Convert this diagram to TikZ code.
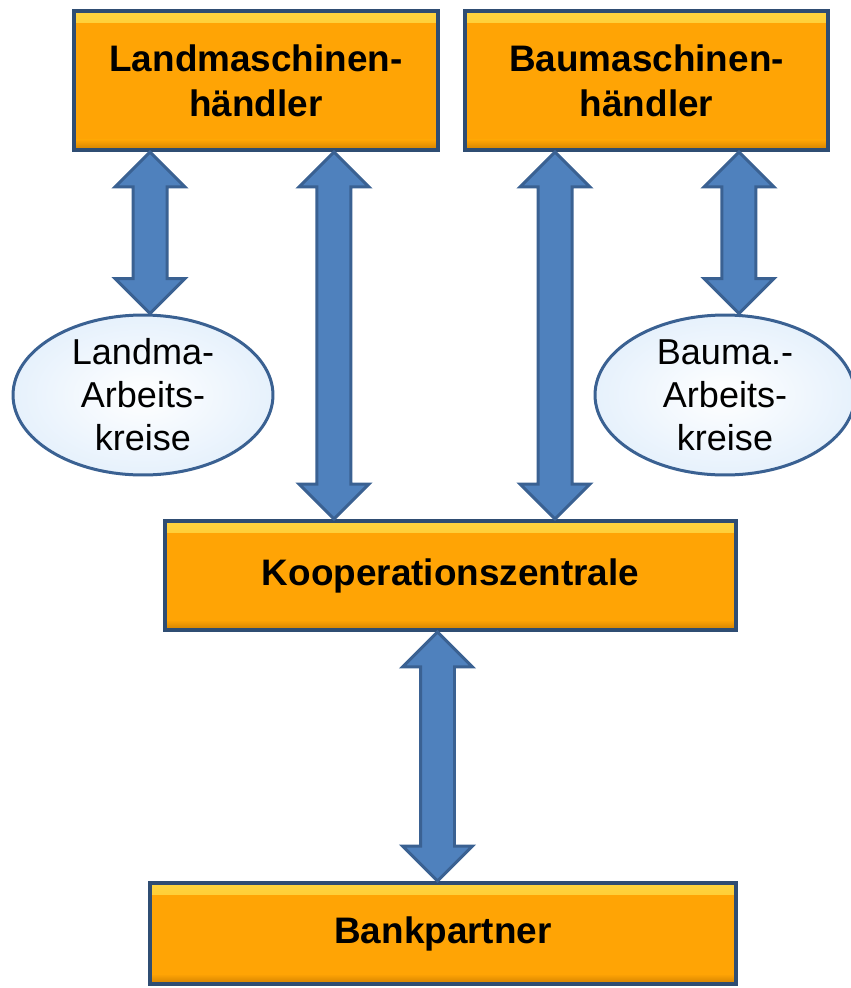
\documentclass[tikz,border=0pt]{standalone}
\usepackage{fontspec}
\setmainfont{Liberation Sans}
\usetikzlibrary{calc, shapes.geometric}

\definecolor{boxfill}{HTML}{FFA405}
\definecolor{boxtop}{HTML}{FFD43F}
\definecolor{boxbot}{HTML}{D08000}
\definecolor{boxline}{HTML}{2F4D73}
\definecolor{arrfill}{HTML}{4F81BD}
\definecolor{arrline}{HTML}{3A6192}
\definecolor{ellfill}{HTML}{E6F1FC}

\tikzset{
    haendler/.style={draw=boxline, line width=0.08cm, fill=boxfill, align=center,
        inner sep=0pt, font=\bfseries\fontsize{21}{25.5}\selectfont,
        path picture={
            \shade[top color=boxtop, bottom color=boxfill] (path picture bounding box.north west) rectangle ([yshift=-0.22cm]path picture bounding box.north east);
            \shade[top color=boxfill, bottom color=boxbot] ([yshift=0.2cm]path picture bounding box.south west) rectangle (path picture bounding box.south east);
        }},
    kreis/.style={ellipse, draw=arrline, line width=0.06cm, inner color=white, outer color=ellfill,
        align=center, inner xsep=0pt, inner ysep=-0.2cm, minimum width=5.2cm, minimum height=3.2cm,
        font=\fontsize{20.5}{24.5}\selectfont},
    blockarrow/.style={draw=arrline, fill=arrfill, line width=0.06cm, line join=miter}
}

% double block arrow, x from #1, ends at y of #1 and #2
\newcommand{\dblarrow}[2]{%
    \filldraw[blockarrow] let \p1=(#1), \p2=(#2) in
        (\x1,\y1) -- ({\x1+0.7cm},{\y1-0.7cm}) -- ({\x1+0.34cm},{\y1-0.7cm})
        -- ({\x1+0.34cm},{\y2+0.7cm}) -- ({\x1+0.7cm},{\y2+0.7cm}) -- (\x1,\y2)
        -- ({\x1-0.7cm},{\y2+0.7cm}) -- ({\x1-0.34cm},{\y2+0.7cm})
        -- ({\x1-0.34cm},{\y1-0.7cm}) -- ({\x1-0.7cm},{\y1-0.7cm}) -- cycle;
}

\begin{document}
\begin{tikzpicture}[x=0.02cm, y=-0.02cm]
    \useasboundingbox (0,0) rectangle (850,988);

    \node[haendler, minimum width=7.28cm, minimum height=2.78cm] (land) at (256,80.5) {Landmaschinen-\\händler};
    \node[haendler, minimum width=7.26cm, minimum height=2.78cm] (bau) at (646.5,80.5) {Baumaschinen-\\händler};
    \node[haendler, minimum width=11.42cm, minimum height=2.18cm] (koop) at (450.5,575.5) {Kooperationszentrale};
    \node[haendler, minimum width=11.72cm, minimum height=2.02cm] (bank) at (443,933.5) {Bankpartner};

    \node[kreis] (landak) at (143,395) {Landma-\\Arbeits-\\kreise};
    \node[kreis] (bauak) at (725,395) {Bauma.-\\Arbeits-\\kreise};

    \dblarrow{$(land.south west)+(78,0)$}{landak.north}
    \dblarrow{$(land.south east)+(-106,0)$}{koop.north}
    \dblarrow{$(bau.south west)+(92,0)$}{koop.north}
    \dblarrow{$(bau.south east)+(-91,0)$}{bauak.north}
    \dblarrow{$(koop.south)+(-13,0)$}{bank.north}
\end{tikzpicture}
\end{document}
